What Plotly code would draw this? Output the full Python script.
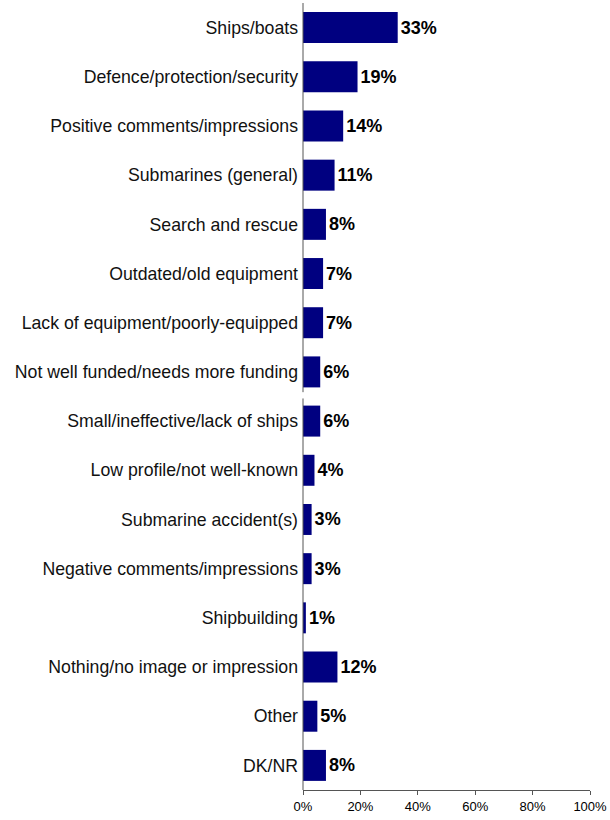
import plotly.graph_objects as go

categories = [
    "Ships/boats",
    "Defence/protection/security",
    "Positive comments/impressions",
    "Submarines (general)",
    "Search and rescue",
    "Outdated/old equipment",
    "Lack of equipment/poorly-equipped",
    "Not well funded/needs more funding",
    "Small/ineffective/lack of ships",
    "Low profile/not well-known",
    "Submarine accident(s)",
    "Negative comments/impressions",
    "Shipbuilding",
    "Nothing/no image or impression",
    "Other",
    "DK/NR",
]
values = [33, 19, 14, 11, 8, 7, 7, 6, 6, 4, 3, 3, 1, 12, 5, 8]
tick_values = [0, 20, 40, 60, 80, 100]
tick_labels = ["0%", "20%", "40%", "60%", "80%", "100%"]

fig = go.Figure(
    go.Bar(
        x=values,
        y=categories,
        orientation="h",
        marker=dict(color="#000080", line=dict(width=0)),
        width=0.63,
        text=[f"{v}%" for v in values],
        textposition="outside",
        textfont=dict(family="Liberation Sans, Arial, sans-serif", size=18, color="#000000", weight="bold"),
        cliponaxis=False,
        hoverinfo="skip",
    )
)

fig.update_layout(
    width=610,
    height=820,
    margin=dict(l=303, r=20, t=3, b=30, autoexpand=False),
    paper_bgcolor="white",
    plot_bgcolor="white",
    showlegend=False,
    font=dict(family="Liberation Sans, Arial, sans-serif", color="#000000"),
    xaxis=dict(
        range=[0, 100],
        tickvals=tick_values,
        ticktext=tick_labels,
        showgrid=False,
        zeroline=False,
        showline=True,
        linecolor="#555555",
        linewidth=1,
        ticks="outside",
        ticklen=4,
        tickcolor="#555555",
        tickfont=dict(size=13, color="#000000"),
    ),
    yaxis=dict(
        autorange="reversed",
        showgrid=False,
        zeroline=False,
        showline=False,
        ticks="",
        tickfont=dict(family="Liberation Sans, Arial, sans-serif", size=17.7, color="#111111"),
        ticklabelstandoff=4,
    ),
)

fig.add_shape(type="line", xref="paper", yref="paper", x0=0, x1=0, y0=0, y1=0.4975,
              line=dict(color="#555555", width=1))
fig.add_shape(type="line", xref="paper", yref="paper", x0=0, x1=0, y0=0.5055, y1=1,
              line=dict(color="#555555", width=1))

fig.write_html("out.html", config={"displayModeBar": False},
               post_script="document.body.style.margin='0';")
